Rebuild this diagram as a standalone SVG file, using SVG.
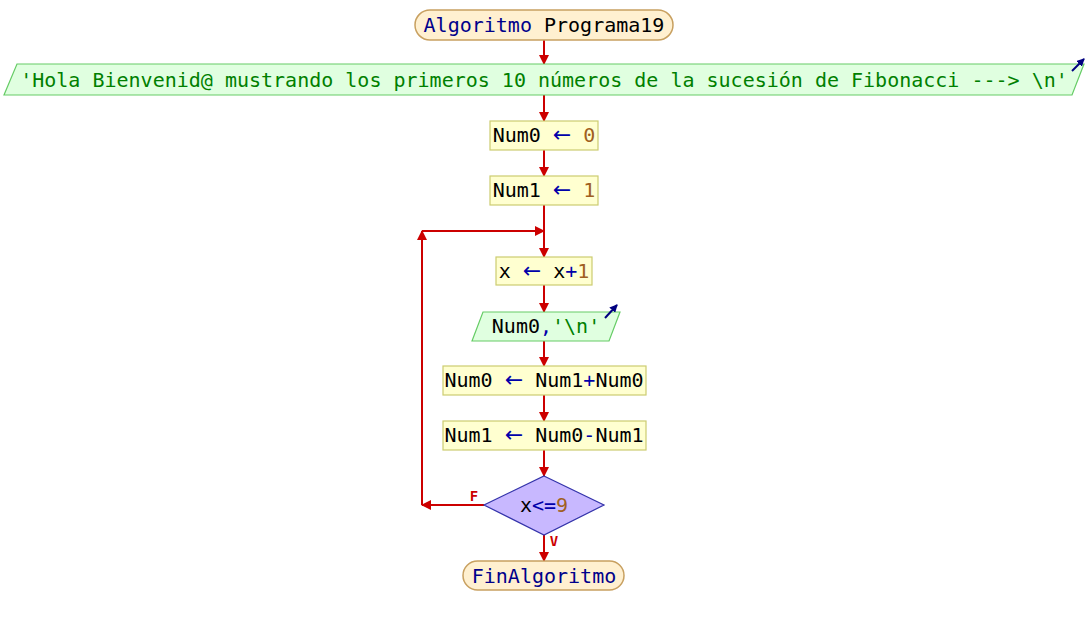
<svg xmlns="http://www.w3.org/2000/svg" width="1088" height="625" viewBox="0 0 1088 625">
  <style>
    text { font-family: "DejaVu Sans Mono", "Liberation Mono", monospace; font-size: 20px; text-anchor: middle; }
    .term { fill: #FFF0D0; stroke: #C8A060; stroke-width: 1.5; }
    .proc { fill: #FFFFD0; stroke: #CCCC70; stroke-width: 1.2; }
    .io { fill: #E0FFE0; stroke: #66CC66; stroke-width: 1.2; }
    .dec { fill: #C8B8FF; stroke: #3333AA; stroke-width: 1.2; }
    .kw { fill: #00008B; }
    .op { fill: #0000AA; }
    .arr { fill: #0000AA; font-family: "DejaVu Sans", sans-serif; font-size: 22px; }
    .num { fill: #A06020; }
    .str { fill: #008000; }
    .id { fill: #000000; }
    .flow { fill: none; stroke: #CC0000; stroke-width: 2; }
    .lbl { fill: #CC0000; font-size: 14px; font-weight: bold; }
    .outmark { stroke: #000080; stroke-width: 2; fill: none; }
  </style>
  <defs>
    <marker id="ah" markerUnits="userSpaceOnUse" markerWidth="10" markerHeight="10" refX="9" refY="5" orient="auto">
      <path d="M0,0 L10,5 L0,10 z" fill="#CC0000"/>
    </marker>
    <marker id="ob" markerUnits="userSpaceOnUse" markerWidth="8" markerHeight="8" refX="7" refY="4" orient="auto">
      <path d="M0,0 L8,4 L0,8 z" fill="#000080"/>
    </marker>
  </defs>

  <rect width="1088" height="625" fill="#FFFFFF"/>

  <!-- flow lines -->
  <g id="connectors">
    <line class="flow" x1="544" y1="40" x2="544" y2="64" marker-end="url(#ah)"/>
    <line class="flow" x1="544" y1="95" x2="544" y2="121" marker-end="url(#ah)"/>
    <line class="flow" x1="544" y1="150" x2="544" y2="176" marker-end="url(#ah)"/>
    <line class="flow" x1="544" y1="205" x2="544" y2="257" marker-end="url(#ah)"/>
    <line class="flow" x1="544" y1="285" x2="544" y2="312" marker-end="url(#ah)"/>
    <line class="flow" x1="544" y1="341" x2="544" y2="366" marker-end="url(#ah)"/>
    <line class="flow" x1="544" y1="395" x2="544" y2="421" marker-end="url(#ah)"/>
    <line class="flow" x1="544" y1="450" x2="544" y2="476" marker-end="url(#ah)"/>
    <line class="flow" x1="544" y1="535" x2="544" y2="561" marker-end="url(#ah)"/>
    <!-- loop back on false -->
    <polyline class="flow" points="484,505 422,505" marker-end="url(#ah)"/>
    <line class="flow" x1="422" y1="505" x2="422" y2="231" marker-end="url(#ah)"/>
    <line class="flow" x1="422" y1="231" x2="544" y2="231" marker-end="url(#ah)"/>
    <text class="lbl" x="474" y="501">F</text>
    <text class="lbl" x="554" y="546">V</text>
  </g>

  <g id="start">
    <rect class="term" x="415" y="10" width="258" height="30" rx="15" ry="15"/>
    <text x="544" y="32"><tspan class="kw">Algoritmo</tspan><tspan class="id"> Programa19</tspan></text>
  </g>

  <g id="out1">
    <polygon class="io" points="17,64 1084,64 1072,95 4,95"/>
    <text class="str" x="544" y="87">'Hola Bienvenid@ mustrando los primeros 10 números de la sucesión de Fibonacci ---&gt; \n'</text>
    <line class="outmark" x1="1072" y1="71" x2="1084" y2="59" marker-end="url(#ob)"/>
  </g>

  <g id="assign0">
    <rect class="proc" x="490" y="121" width="108" height="29"/>
    <text x="544" y="142"><tspan class="id">Num0 </tspan><tspan class="arr">←</tspan><tspan class="num"> 0</tspan></text>
  </g>

  <g id="assign1">
    <rect class="proc" x="490" y="176" width="108" height="29"/>
    <text x="544" y="197"><tspan class="id">Num1 </tspan><tspan class="arr">←</tspan><tspan class="num"> 1</tspan></text>
  </g>

  <g id="incx">
    <rect class="proc" x="496" y="257" width="96" height="28"/>
    <text x="544" y="278"><tspan class="id">x </tspan><tspan class="arr">←</tspan><tspan class="id"> x</tspan><tspan class="op">+</tspan><tspan class="num">1</tspan></text>
  </g>

  <g id="out2">
    <polygon class="io" points="483,312 620,312 609,341 472,341"/>
    <text x="546" y="333"><tspan class="id">Num0</tspan><tspan class="op">,</tspan><tspan class="str">'\n'</tspan></text>
    <line class="outmark" x1="605" y1="318" x2="617" y2="305" marker-end="url(#ob)"/>
  </g>

  <g id="sum">
    <rect class="proc" x="443" y="366" width="203" height="29"/>
    <text x="544" y="387"><tspan class="id">Num0 </tspan><tspan class="arr">←</tspan><tspan class="id"> Num1</tspan><tspan class="op">+</tspan><tspan class="id">Num0</tspan></text>
  </g>

  <g id="diff">
    <rect class="proc" x="443" y="421" width="203" height="29"/>
    <text x="544" y="442"><tspan class="id">Num1 </tspan><tspan class="arr">←</tspan><tspan class="id"> Num0</tspan><tspan class="op">-</tspan><tspan class="id">Num1</tspan></text>
  </g>

  <g id="cond">
    <polygon class="dec" points="544,476 604,505 544,535 484,505"/>
    <text x="544" y="512"><tspan class="id">x</tspan><tspan class="op">&lt;=</tspan><tspan class="num">9</tspan></text>
  </g>

  <g id="end">
    <rect class="term" x="463" y="561" width="161" height="29" rx="14.5" ry="14.5"/>
    <text class="kw" x="544" y="583">FinAlgoritmo</text>
  </g>
</svg>
